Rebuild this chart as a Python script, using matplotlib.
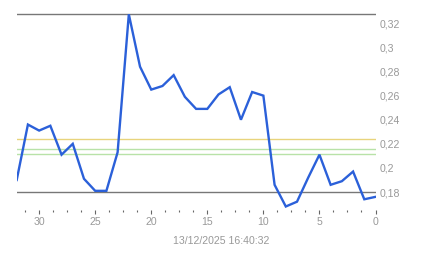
import numpy as np
import matplotlib
matplotlib.use('Agg')
import matplotlib.pyplot as plt
from matplotlib.ticker import MultipleLocator, FuncFormatter

plt.rcParams['font.family'] = ['Liberation Sans', 'DejaVu Sans']

# data (x counts back from now)
lags = np.arange(32, -1, -1)
values = [0.190, 0.236, 0.231, 0.235, 0.211, 0.220, 0.191, 0.181, 0.181, 0.213,
          0.3275, 0.284, 0.265, 0.268, 0.277, 0.259, 0.249, 0.249, 0.261, 0.267,
          0.240, 0.263, 0.260, 0.186, 0.168, 0.172, 0.192, 0.211, 0.186, 0.189,
          0.197, 0.174, 0.176]
top_line = 0.3275
bottom_line = 0.180
yellow_line = 0.2239
green_lines = [0.2156, 0.2115]
yticks = [0.18, 0.20, 0.22, 0.24, 0.26, 0.28, 0.30, 0.32]
stamp = '13/12/2025 16:40:32'

W, H = 443, 258
fig = plt.figure(figsize=(W / 100, H / 100), dpi=100)
ax = fig.add_axes([16.7 / W, (H - 210) / H, (375.5 - 16.7) / W, 205 / H])

ax.axhline(top_line, color='#777777', lw=1)
ax.axhline(bottom_line, color='#777777', lw=1)
ax.axhline(yellow_line, color='#e8d47c', lw=1)
for g in green_lines:
    ax.axhline(g, color='#b8e2a8', lw=1)
ax.plot(lags, values, color='#2b60d9', lw=1.7, solid_joinstyle='miter')

ax.set_xlim(32, 0)
ax.set_ylim(0.1651, 0.3352)
for s in ax.spines.values():
    s.set_visible(False)

ax.yaxis.tick_right()
ax.set_yticks(yticks)
ax.yaxis.set_major_formatter(FuncFormatter(lambda v, p: ('%g' % round(v, 2)).replace('.', ',')))
ax.tick_params(axis='y', length=0, pad=3, labelsize=7.6, labelcolor='#999999')

ax.xaxis.set_major_locator(MultipleLocator(5))
ax.xaxis.set_minor_locator(MultipleLocator(1.25))
ax.tick_params(axis='x', which='major', length=3, width=0.8, color='#666666',
               labelsize=7.6, labelcolor='#999999', pad=2)
ax.tick_params(axis='x', which='minor', length=1.2, width=0.8, color='#666666')

fig.text(0.5, (H - 241) / H, stamp, ha='center', va='center', fontsize=7.6, color='#999999')

fig.savefig('out.png', dpi=100)
